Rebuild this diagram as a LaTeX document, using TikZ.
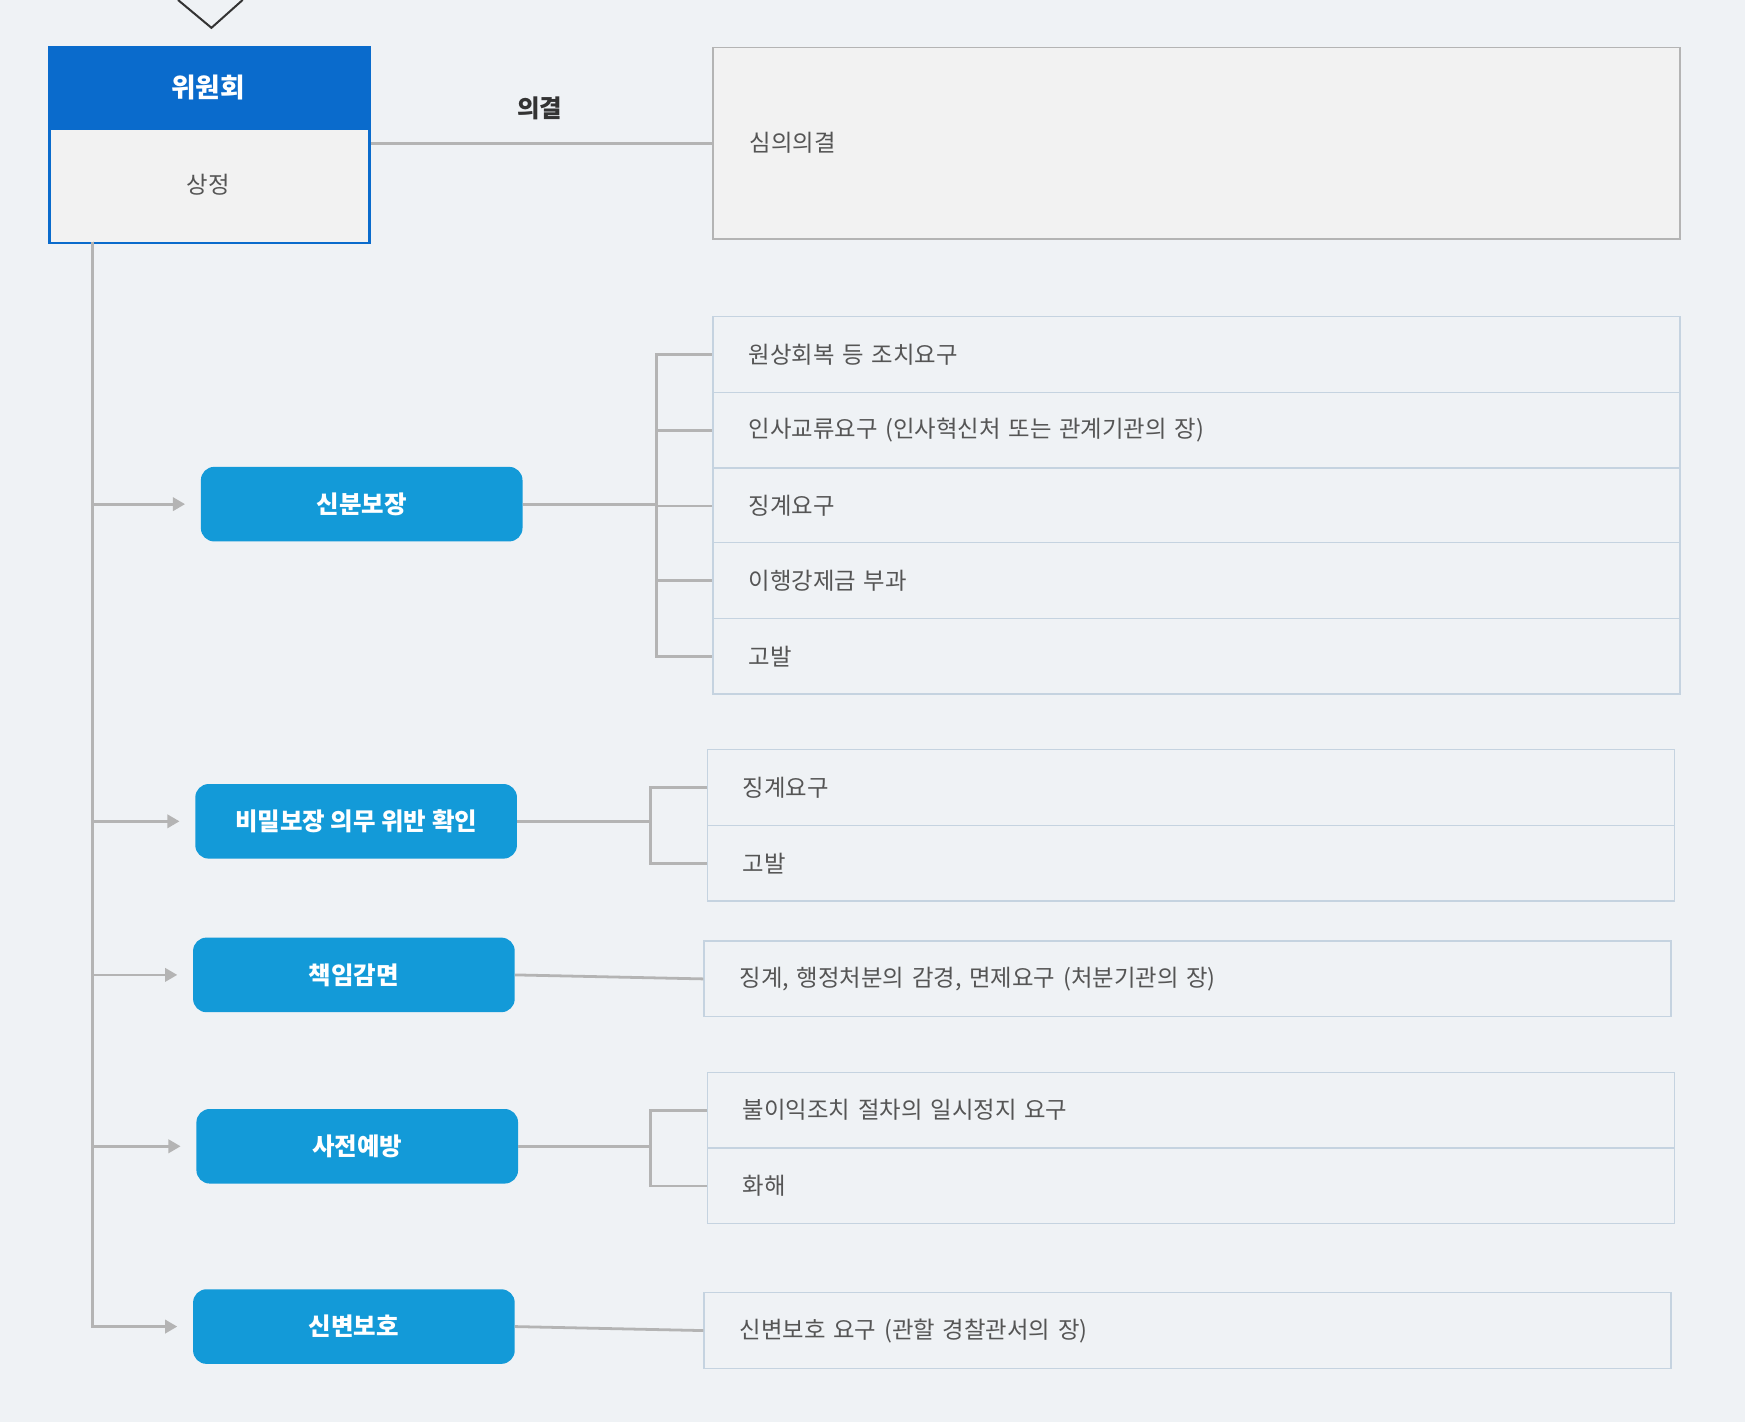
\documentclass[tikz,border=0pt]{standalone}
\usepackage{fontspec}
\setmainfont{Noto Sans CJK KR}
\usetikzlibrary{arrows.meta,positioning}
\definecolor{bgc}{HTML}{EFF2F5}
\definecolor{headblue}{HTML}{0A6BCC}
\definecolor{pillblue}{HTML}{139AD8}
\definecolor{rowline}{HTML}{C5D3E0}
\definecolor{conn}{HTML}{B4B4B4}
\definecolor{txt}{HTML}{555555}
\begin{document}
\begin{tikzpicture}[x=1pt,y=-1pt]
		\tikzstyle{pill}=[rounded corners=12pt,fill=pillblue,text=white,font=\fontsize{22}{26}\selectfont\bfseries,minimum width=289pt,minimum height=67pt,inner sep=0pt]
		\tikzstyle{row}=[draw=rowline,fill=bgc,line width=1.2pt,minimum height=68pt,text=txt,font=\fontsize{21}{25}\selectfont,text width=805pt,inner xsep=32pt,inner ysep=0pt,anchor=north west,align=left]
		\tikzstyle{conn}=[draw=conn,line width=2.5pt]
		\tikzstyle{trunk}=[conn,-{Triangle[length=11pt,width=12pt]},shorten >=14pt]

		% background
		\fill[bgc] (0,0) rectangle (1568,1278);
		\useasboundingbox (0,0) rectangle (1568,1278);
		\draw[line width=1.8pt,black!80] (160,0) -- (190,25) -- (218,0);

		% committee box
		\node[draw=headblue,line width=2.5pt,fill=white!95!black,minimum width=288pt,minimum height=176pt,anchor=north west,inner sep=0pt] (C) at (43,41) {};
		\fill[headblue] (43,41) rectangle (331,117);
		\node[text=white,font=\fontsize{24}{28}\selectfont\bfseries] (Ch) at (187,79) {위원회};
		\node[text=txt,font=\fontsize{21}{25}\selectfont] (Cs) at (187,166) {상정};

		% resolution
		\node[draw=conn,line width=1.5pt,fill=white!95!black,minimum width=869pt,minimum height=172pt,anchor=north west,inner sep=0pt] (D) at (640,42) {};
		\node[text=txt,font=\fontsize{21}{25}\selectfont,anchor=west] (Dt) at (670,128) {심의의결};
		\draw[conn] (C.east |- D.west) -- (D.west);
		\node[font=\fontsize{22}{26}\selectfont\bfseries,text=black!80] (Dl) at (485,97) {의결};

		% pills
		\node[pill] (P1) at (325,453) {신분보장};
		\node[pill] (P2) at (320,738) {비밀보장 의무 위반 확인};
		\node[pill] (P3) at (318,876) {책임감면};
		\node[pill] (P4) at (321,1030) {사전예방};
		\node[pill] (P5) at (318,1192) {신변보호};

		% rows
		\foreach \name/\y/\t in {1/284/원상회복 등 조치요구,2/352/인사교류요구 (인사혁신처 또는 관계기관의 장),3/420/징계요구,4/487/이행강제금 부과,5/555/고발}
		\node[row] (A-\name) at (640,\y) {\t};
		\foreach \name/\y/\t in {1/673/징계요구,2/741/고발}
		\node[row] (B-\name) at (635,\y) {\t};
		\node[row] (E-1) at (632,845) {징계, 행정처분의 감경, 면제요구 (처분기관의 장)};
		\foreach \name/\y/\t in {1/963/불이익조치 절차의 일시정지 요구,2/1031/화해}
		\node[row] (F-\name) at (635,\y) {\t};
		\node[row] (G-1) at (632,1161) {신변보호 요구 (관할 경찰관서의 장)};

		% connectors to rows
		\foreach \name in {1,...,5}
		\draw[conn] (P1.east) -- ++(120,0) |- (A-\name.west);
		\foreach \name in {1,2}
		\draw[conn] (P2.east) -- ++(120,0) |- (B-\name.west);
		\draw[conn] (P3.east) -- (E-1.west);
		\foreach \name in {1,2}
		\draw[conn] (P4.east) -- ++(119,0) |- (F-\name.west);
		\draw[conn] (P5.east) -- (G-1.west);

		% trunk
		\coordinate (T) at (83,217);
		\foreach \p in {P1,P2,P3,P4,P5}
		\draw[trunk] (T) |- (\p.west);
	\end{tikzpicture}
\end{document}
